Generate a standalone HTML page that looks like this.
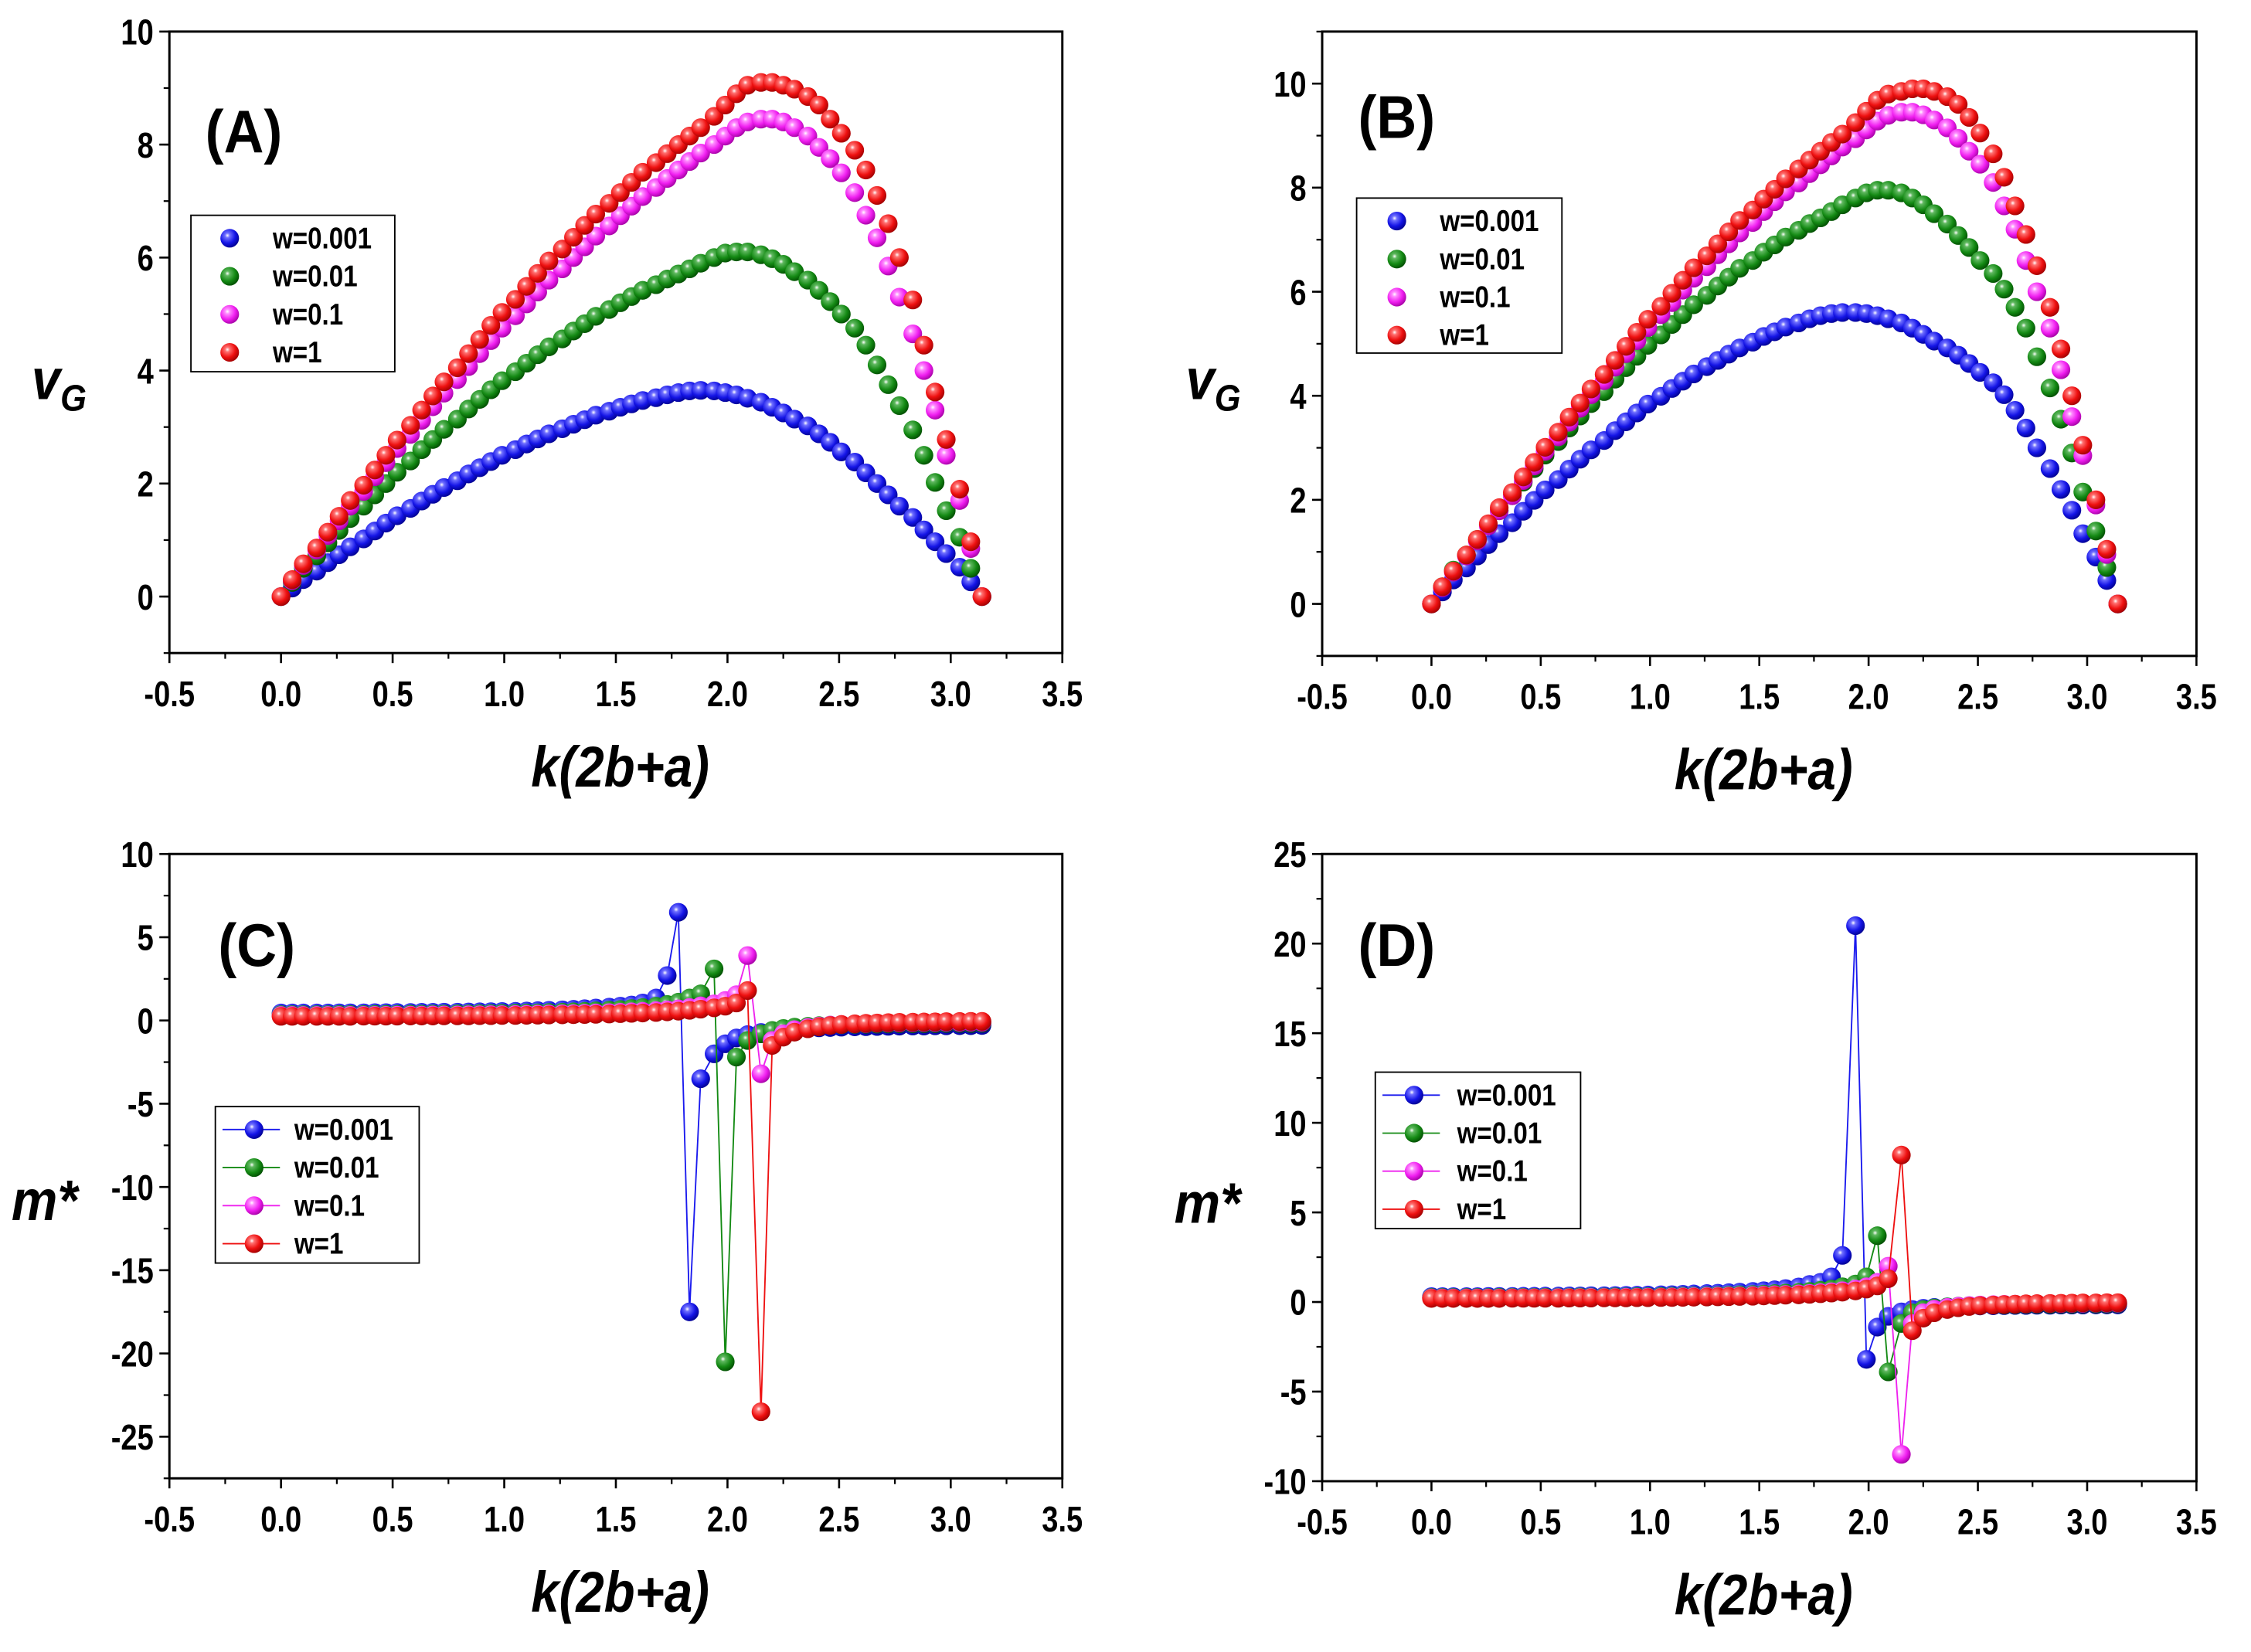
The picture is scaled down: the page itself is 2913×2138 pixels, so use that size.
<!DOCTYPE html>
<html><head><meta charset="utf-8"><style>
html,body{margin:0;padding:0;background:#fff;}
svg{display:block;}
text{font-family:"Liberation Sans",Arial,sans-serif;}
</style></head><body>
<svg id="fig" width="2913" height="2138" viewBox="0 0 1568 1151" preserveAspectRatio="none" xmlns="http://www.w3.org/2000/svg">
<defs>
<radialGradient id="g-blue" cx="0.38" cy="0.35" r="0.7"><stop offset="0" stop-color="#ffffff"/><stop offset="0.18" stop-color="#6f6fff"/><stop offset="0.6" stop-color="#1414e6"/><stop offset="1" stop-color="#00008a"/></radialGradient>
<radialGradient id="g-green" cx="0.38" cy="0.35" r="0.7"><stop offset="0" stop-color="#ffffff"/><stop offset="0.18" stop-color="#5fb85f"/><stop offset="0.6" stop-color="#148a14"/><stop offset="1" stop-color="#004a00"/></radialGradient>
<radialGradient id="g-magenta" cx="0.38" cy="0.35" r="0.7"><stop offset="0" stop-color="#ffffff"/><stop offset="0.18" stop-color="#ff8cff"/><stop offset="0.6" stop-color="#f01ef0"/><stop offset="1" stop-color="#a000a0"/></radialGradient>
<radialGradient id="g-red" cx="0.38" cy="0.35" r="0.7"><stop offset="0" stop-color="#ffffff"/><stop offset="0.18" stop-color="#ff7070"/><stop offset="0.6" stop-color="#ee1010"/><stop offset="1" stop-color="#9a0000"/></radialGradient>
</defs>
</svg>
<script>
// shared k grid
const kValues = [0,0.05,0.10,0.16,0.21,0.26,0.31,0.37,0.42,0.47,0.52,0.58,0.63,0.68,0.73,0.79,0.84,0.89,0.94,0.99,1.05,1.10,1.15,1.20,1.26,1.31,1.36,1.41,1.47,1.52,1.57,1.62,1.68,1.73,1.78,1.83,1.88,1.94,1.99,2.04,2.09,2.15,2.20,2.25,2.30,2.36,2.41,2.46,2.51,2.57,2.62,2.67,2.72,2.77,2.83,2.88,2.93,2.98,3.04,3.09,3.14];
const seriesNames = ["w=0.001","w=0.01","w=0.1","w=1"];
// Panel A
const aBlue = [0,0.15,0.30,0.45,0.60,0.74,0.88,1.02,1.16,1.30,1.43,1.56,1.69,1.81,1.93,2.05,2.17,2.28,2.39,2.50,2.60,2.70,2.79,2.88,2.97,3.05,3.13,3.21,3.28,3.35,3.41,3.47,3.52,3.57,3.61,3.64,3.65,3.64,3.61,3.57,3.51,3.44,3.35,3.25,3.14,3.02,2.88,2.73,2.56,2.38,2.19,2.00,1.80,1.60,1.40,1.18,0.97,0.76,0.52,0.26,0];
const aGreen = [0,0.25,0.50,0.72,0.95,1.17,1.38,1.60,1.80,2.00,2.20,2.40,2.60,2.78,2.96,3.14,3.32,3.49,3.66,3.82,3.98,4.13,4.28,4.42,4.56,4.70,4.83,4.96,5.08,5.20,5.31,5.42,5.52,5.62,5.71,5.80,5.90,6.00,6.08,6.10,6.10,6.05,5.98,5.88,5.75,5.60,5.42,5.22,5.00,4.75,4.45,4.10,3.75,3.38,2.95,2.50,2.02,1.52,1.05,0.50,0];
const aMagenta = [0,0.28,0.55,0.82,1.08,1.34,1.60,1.86,2.12,2.37,2.62,2.87,3.12,3.36,3.60,3.84,4.07,4.30,4.53,4.75,4.97,5.18,5.39,5.60,5.80,6.00,6.19,6.38,6.56,6.74,6.91,7.08,7.24,7.40,7.55,7.70,7.85,8.00,8.15,8.30,8.40,8.45,8.45,8.40,8.30,8.15,7.95,7.75,7.50,7.15,6.75,6.35,5.85,5.30,4.65,4.00,3.30,2.50,1.70,0.85,0];
const aRed = [0,0.30,0.58,0.86,1.14,1.42,1.70,1.97,2.24,2.50,2.77,3.03,3.30,3.55,3.80,4.05,4.30,4.55,4.80,5.03,5.26,5.49,5.72,5.94,6.15,6.36,6.57,6.77,6.96,7.15,7.33,7.51,7.68,7.84,8.00,8.15,8.30,8.50,8.70,8.90,9.05,9.10,9.10,9.05,8.98,8.85,8.70,8.45,8.20,7.90,7.55,7.10,6.60,6.00,5.25,4.45,3.62,2.78,1.90,0.97,0];
// Panel B
const bBlue = [0,0.23,0.46,0.69,0.92,1.14,1.35,1.56,1.78,1.99,2.19,2.39,2.59,2.78,2.96,3.14,3.33,3.50,3.67,3.84,3.99,4.14,4.28,4.42,4.56,4.68,4.80,4.92,5.03,5.14,5.23,5.32,5.40,5.48,5.54,5.58,5.60,5.60,5.58,5.54,5.48,5.40,5.30,5.18,5.05,4.92,4.78,4.62,4.45,4.25,4.02,3.72,3.38,3.00,2.60,2.20,1.80,1.35,0.90,0.45,0];
const bGreen = [0,0.33,0.65,0.94,1.24,1.52,1.79,2.08,2.34,2.60,2.86,3.12,3.38,3.61,3.85,4.08,4.32,4.54,4.76,4.97,5.17,5.37,5.56,5.75,5.93,6.11,6.28,6.45,6.60,6.76,6.90,7.05,7.18,7.31,7.42,7.54,7.67,7.80,7.90,7.95,7.95,7.90,7.80,7.67,7.50,7.30,7.08,6.85,6.60,6.35,6.05,5.70,5.30,4.75,4.15,3.55,2.90,2.15,1.40,0.70,0];
const bMagenta = [0,0.31,0.61,0.92,1.21,1.50,1.79,2.08,2.37,2.65,2.93,3.21,3.49,3.76,4.02,4.29,4.55,4.81,5.06,5.31,5.56,5.79,6.03,6.26,6.48,6.71,6.92,7.13,7.33,7.54,7.73,7.92,8.09,8.27,8.44,8.61,8.78,8.94,9.11,9.28,9.39,9.45,9.45,9.40,9.30,9.15,8.95,8.70,8.45,8.10,7.65,7.20,6.60,6.00,5.30,4.50,3.60,2.85,1.90,0.95,0];
const bRed = [0,0.33,0.63,0.94,1.24,1.54,1.85,2.14,2.44,2.72,3.01,3.30,3.59,3.86,4.13,4.41,4.68,4.95,5.22,5.47,5.72,5.97,6.22,6.46,6.69,6.92,7.15,7.37,7.57,7.78,7.97,8.17,8.36,8.53,8.70,8.87,9.03,9.25,9.47,9.68,9.80,9.85,9.90,9.90,9.85,9.75,9.60,9.35,9.05,8.65,8.20,7.65,7.10,6.50,5.70,4.90,4.00,3.05,2.00,1.05,0];
// Panel C
const cBlue = [0.45,0.45,0.45,0.45,0.45,0.46,0.46,0.46,0.47,0.47,0.48,0.48,0.49,0.49,0.50,0.50,0.51,0.52,0.53,0.54,0.55,0.57,0.59,0.61,0.64,0.67,0.71,0.75,0.80,0.86,0.93,1.05,1.35,2.70,6.50,-17.5,-3.5,-2.0,-1.4,-1.05,-0.85,-0.72,-0.62,-0.56,-0.51,-0.47,-0.44,-0.42,-0.40,-0.38,-0.37,-0.36,-0.35,-0.34,-0.33,-0.33,-0.32,-0.32,-0.31,-0.31,-0.30];
const cGreen = [0.35,0.35,0.35,0.35,0.35,0.36,0.36,0.36,0.37,0.37,0.37,0.38,0.38,0.39,0.39,0.40,0.40,0.41,0.42,0.43,0.44,0.45,0.46,0.48,0.50,0.52,0.55,0.58,0.62,0.66,0.72,0.78,0.86,0.96,1.10,1.35,1.60,3.10,-20.5,-2.2,-1.2,-0.8,-0.6,-0.48,-0.40,-0.35,-0.31,-0.28,-0.26,-0.24,-0.23,-0.22,-0.21,-0.20,-0.20,-0.19,-0.19,-0.18,-0.18,-0.18,-0.17];
const cMagenta = [0.30,0.30,0.30,0.30,0.30,0.30,0.31,0.31,0.31,0.31,0.32,0.32,0.32,0.33,0.33,0.33,0.34,0.34,0.35,0.35,0.36,0.37,0.38,0.39,0.40,0.41,0.43,0.45,0.47,0.49,0.52,0.55,0.59,0.64,0.70,0.78,0.88,1.00,1.20,1.55,3.90,-3.2,-1.2,-0.8,-0.55,-0.42,-0.34,-0.28,-0.24,-0.21,-0.19,-0.17,-0.16,-0.15,-0.14,-0.13,-0.13,-0.12,-0.12,-0.11,-0.11];
const cRed = [0.25,0.25,0.25,0.25,0.25,0.25,0.25,0.26,0.26,0.26,0.26,0.27,0.27,0.27,0.28,0.28,0.28,0.29,0.29,0.30,0.30,0.31,0.32,0.33,0.34,0.35,0.36,0.37,0.39,0.41,0.43,0.45,0.48,0.52,0.56,0.61,0.68,0.76,0.86,1.05,1.80,-23.5,-1.5,-1.0,-0.7,-0.5,-0.38,-0.30,-0.24,-0.2,-0.17,-0.15,-0.13,-0.11,-0.1,-0.09,-0.08,-0.07,-0.06,-0.05,-0.05];
// Panel D
const dBlue = [0.30,0.30,0.30,0.30,0.30,0.31,0.31,0.31,0.32,0.32,0.33,0.33,0.34,0.34,0.35,0.35,0.36,0.37,0.38,0.39,0.40,0.41,0.43,0.45,0.47,0.49,0.52,0.55,0.59,0.63,0.68,0.75,0.84,0.98,1.10,1.40,2.60,21.0,-3.2,-1.4,-0.8,-0.55,-0.42,-0.35,-0.30,-0.27,-0.25,-0.23,-0.22,-0.21,-0.20,-0.19,-0.19,-0.18,-0.18,-0.17,-0.17,-0.17,-0.16,-0.16,-0.16];
const dGreen = [0.25,0.25,0.25,0.25,0.25,0.25,0.26,0.26,0.26,0.26,0.27,0.27,0.27,0.28,0.28,0.28,0.29,0.29,0.30,0.30,0.31,0.32,0.33,0.34,0.35,0.36,0.38,0.40,0.42,0.44,0.47,0.50,0.54,0.59,0.65,0.72,0.85,1.00,1.40,3.70,-3.9,-1.2,-0.6,-0.42,-0.33,-0.27,-0.23,-0.2,-0.18,-0.17,-0.16,-0.15,-0.14,-0.13,-0.13,-0.12,-0.12,-0.11,-0.11,-0.11,-0.10];
const dMagenta = [0.22,0.22,0.22,0.22,0.22,0.22,0.22,0.23,0.23,0.23,0.23,0.24,0.24,0.24,0.25,0.25,0.25,0.26,0.26,0.27,0.27,0.28,0.29,0.30,0.31,0.32,0.33,0.34,0.36,0.38,0.40,0.42,0.45,0.48,0.52,0.57,0.63,0.72,0.85,1.10,2.00,-8.5,-1.2,-0.6,-0.4,-0.3,-0.24,-0.2,-0.17,-0.15,-0.13,-0.12,-0.11,-0.1,-0.09,-0.09,-0.08,-0.08,-0.07,-0.07,-0.07];
const dRed = [0.20,0.20,0.20,0.20,0.20,0.20,0.20,0.21,0.21,0.21,0.21,0.21,0.22,0.22,0.22,0.23,0.23,0.23,0.24,0.24,0.25,0.25,0.26,0.27,0.28,0.29,0.30,0.31,0.32,0.34,0.36,0.38,0.40,0.43,0.46,0.50,0.55,0.62,0.72,0.90,1.30,8.2,-1.6,-0.9,-0.6,-0.42,-0.32,-0.25,-0.2,-0.17,-0.14,-0.12,-0.1,-0.09,-0.08,-0.07,-0.06,-0.05,-0.05,-0.04,-0.04];
const xTickLabels = ["-0.5","0.0","0.5","1.0","1.5","2.0","2.5","3.0","3.5"];
const yTicksA = ["0","2","4","6","8","10"];
const yTicksB = ["0","2","4","6","8","10"];
const yTicksC = ["-25","-20","-15","-10","-5","0","5","10"];
const yTicksD = ["-10","-5","0","5","10","15","20","25"];

const NS = "http://www.w3.org/2000/svg";
const svg = document.getElementById('fig');
const colors = ["blue","green","magenta","red"];
const lineColors = ["#1a1aee","#138a13","#ee22ee","#ee1111"];
function mk(tag, attrs, parent){
  const e = document.createElementNS(NS, tag);
  for (const k in attrs) e.setAttribute(k, attrs[k]);
  (parent||svg).appendChild(e);
  return e;
}
function ctext(parent, x, y, str, size, anchor, sq, extra){
  const g = mk('g', {transform:'translate(' + x + ',' + y + ') scale(' + sq + ',1)'}, parent);
  const a = {x:0, y:0, 'text-anchor':anchor, 'font-size':size, 'font-weight':'bold'};
  if (extra) for (const k in extra) a[k] = extra[k];
  const t = mk('text', a, g);
  t.textContent = str;
  return t;
}
function panel(p){
  const g = mk('g', {});
  
  
  const sx = v => p.x0 + (v - p.xmin) / (p.xmax - p.xmin) * (p.x1 - p.x0);
  const sy = v => p.y1 - (v - p.ymin) / (p.ymax - p.ymin) * (p.y1 - p.y0);
  const frame = mk('rect', {x:p.x0, y:p.y0, width:p.x1-p.x0, height:p.y1-p.y0, fill:'none', stroke:'#000', 'stroke-width':1.6}, g);
  
  
  for (let i = 0; i < xTickLabels.length; i++){
    const v = parseFloat(xTickLabels[i]);
    const x = sx(v);
    mk('line', {x1:x, x2:x, y1:p.y1, y2:p.y1+7, stroke:'#000','stroke-width':1.4}, g);
    if (i < xTickLabels.length-1){ const xm = sx(v+0.25); mk('line', {x1:xm, x2:xm, y1:p.y1, y2:p.y1+4, stroke:'#000','stroke-width':1.2}, g); }
    const t = ctext(g, x, p.y1+37, xTickLabels[i], 25, 'middle', 0.82);
    
    
  }
  for (let i = 0; i < p.yt.length; i++){
    const v = parseFloat(p.yt[i]);
    const y = sy(v);
    mk('line', {x1:p.x0-7, x2:p.x0, y1:y, y2:y, stroke:'#000','stroke-width':1.4}, g);
    const t = ctext(g, p.x0-11, y+9, p.yt[i], 25, 'end', 0.82);
    
    
  }
  for (let v = p.ymin; v <= p.ymax + 1e-9; v += p.minor){
    const y = sy(v);
    mk('line', {x1:p.x0-4, x2:p.x0, y1:y, y2:y, stroke:'#000','stroke-width':1.2}, g);
  }
  for (let s = 0; s < 4; s++){
    const data = p.series[s];
    const sg = mk('g', {}, g);
    
    
    if (p.lines){
      const pts = data.map((v,i) => sx(kValues[i]).toFixed(1) + ',' + sy(v).toFixed(1)).join(' ');
      mk('polyline', {points:pts, fill:'none', stroke:lineColors[s], 'stroke-width':1}, sg);
    }
    for (let i = 0; i < data.length; i++){
      const c = mk('circle', {cx:sx(kValues[i]), cy:sy(data[i]), r:6.5, fill:'url(#g-' + colors[s] + ')'}, sg);
      
      
    }
  }
  const lg = mk('g', {}, g);
  
  
  const L = p.leg;
  mk('rect', {x:L.x, y:L.y, width:L.w, height:L.h, fill:'#fff', stroke:'#000', 'stroke-width':1}, lg);
  for (let s = 0; s < 4; s++){
    const y = L.y + 16 + s*26.5;
    const e = mk('g', {}, lg);
    
    
    if (p.lines) mk('line', {x1:L.x+5, x2:L.x+45, y1:y, y2:y, stroke:lineColors[s], 'stroke-width':1}, e);
    mk('circle', {cx:L.mx, cy:y, r:6.5, fill:'url(#g-' + colors[s] + ')'}, e);
    ctext(e, L.tx, y+7, seriesNames[s], 21, 'start', 0.85);
  }
  const pl = ctext(g, p.lab[0], p.lab[1], '(' + p.id + ')', 42, 'start', 0.92);
  
  
  const xt = ctext(g, (p.x0+p.x1)/2 + 3, p.y1+93, 'k(2b+a)', 40, 'middle', 0.88, {'font-style':'italic'});
  
  
  const yt = ctext(g, p.ytl[0], p.ytl[1], '', 40, 'start', 0.9, {'font-style':'italic'});
  
  
  if (p.vg){
    yt.textContent = 'v';
    const sub = mk('tspan', {'font-size':26, dy:8}, yt); sub.textContent = 'G';
  } else {
    yt.textContent = 'm*';
  }
}
panel({id:'A', x0:118, x1:740, y0:22, y1:455, xmin:-0.5, xmax:3.5, ymin:-1, ymax:10, minor:1, yt:yTicksA,
  series:[aBlue,aGreen,aMagenta,aRed], lines:false, leg:{x:133,y:150,w:142,h:109,mx:160,tx:190}, lab:[143,106], ytl:[22,278], vg:true});
panel({id:'B', x0:921, x1:1530, y0:22, y1:457, xmin:-0.5, xmax:3.5, ymin:-1, ymax:11, minor:1, yt:yTicksB,
  series:[bBlue,bGreen,bMagenta,bRed], lines:false, leg:{x:945,y:138,w:143,h:108,mx:973,tx:1003}, lab:[946,96], ytl:[826,278], vg:true});
panel({id:'C', x0:118, x1:740, y0:595, y1:1030, xmin:-0.5, xmax:3.5, ymin:-27.5, ymax:10, minor:2.5, yt:yTicksC,
  series:[cBlue,cGreen,cMagenta,cRed], lines:true, leg:{x:150,y:771,w:142,h:109,mx:177,tx:205}, lab:[152,673], ytl:[8,850], vg:false});
panel({id:'D', x0:921, x1:1530, y0:595, y1:1032, xmin:-0.5, xmax:3.5, ymin:-10, ymax:25, minor:2.5, yt:yTicksD,
  series:[dBlue,dGreen,dMagenta,dRed], lines:true, leg:{x:958,y:747,w:143,h:109,mx:985,tx:1015}, lab:[946,673], ytl:[818,852], vg:false});
</script>
</body></html>
